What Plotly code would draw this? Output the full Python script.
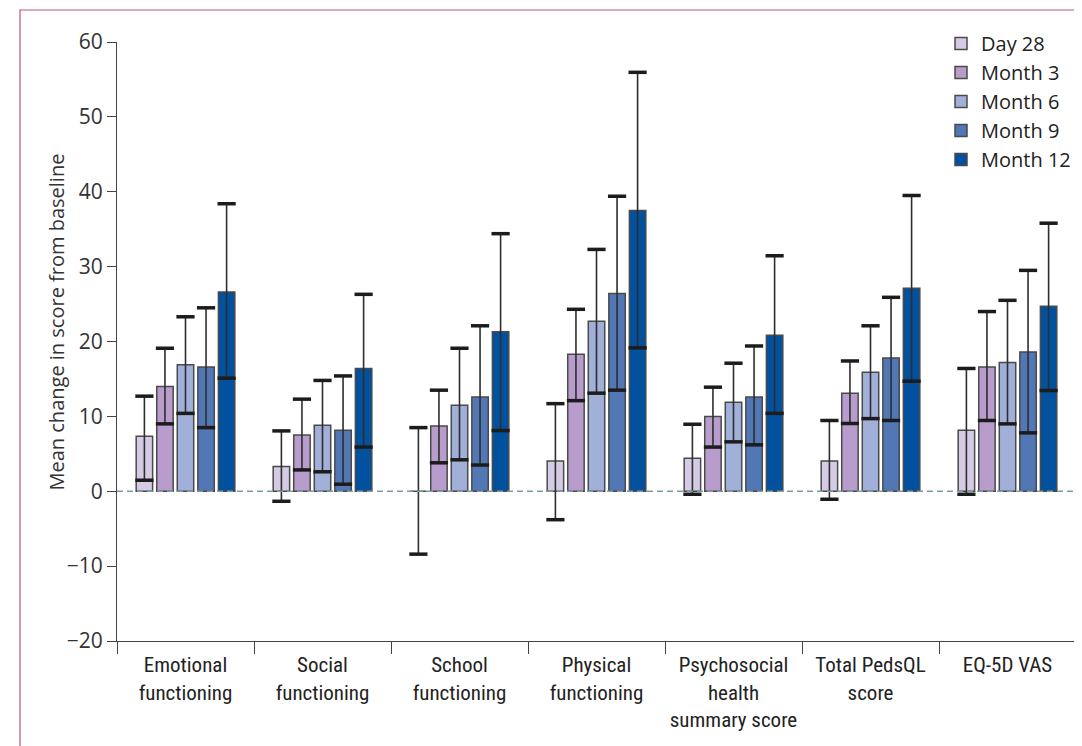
import plotly.graph_objects as go

categories = ["Emotional<br>functioning", "Social<br>functioning", "School<br>functioning",
              "Physical<br>functioning", "Psychosocial<br>health<br>summary score",
              "Total PedsQL<br>score", "EQ-5D VAS"]
series_names = ["Day 28", "Month 3", "Month 6", "Month 9", "Month 12"]

day28 = [7.35, 3.3, 0.0, 4.05, 4.4, 4.05, 8.15]
month3 = [14.0, 7.5, 8.7, 18.3, 10.0, 13.1, 16.6]
month6 = [16.9, 8.8, 11.5, 22.7, 11.9, 15.9, 17.2]
month9 = [16.6, 8.15, 12.6, 26.4, 12.6, 17.8, 18.6]
month12 = [26.6, 16.4, 21.3, 37.5, 20.85, 27.1, 24.7]

day28_hi = [12.7, 8.06, 8.5, 11.7, 8.95, 9.45, 16.4]
month3_hi = [19.1, 12.3, 13.5, 24.3, 13.9, 17.4, 24.0]
month6_hi = [23.3, 14.8, 19.1, 32.3, 17.1, 22.1, 25.5]
month9_hi = [24.5, 15.4, 22.1, 39.4, 19.4, 25.9, 29.5]
month12_hi = [38.4, 26.3, 34.4, 55.95, 31.45, 39.5, 35.8]

day28_lo = [1.47, -1.34, -8.4, -3.8, -0.4, -1.07, -0.4]
month3_lo = [9.0, 2.85, 3.8, 12.1, 5.9, 9.05, 9.45]
month6_lo = [10.4, 2.6, 4.2, 13.1, 6.6, 9.7, 9.0]
month9_lo = [8.5, 0.94, 3.5, 13.5, 6.2, 9.45, 7.8]
month12_lo = [15.1, 5.9, 8.1, 19.15, 10.4, 14.7, 13.45]

colors = ["#d5cbe4", "#b89dcc", "#a1b0d9", "#5277b5", "#02519f"]

means = [day28, month3, month6, month9, month12]
highs = [day28_hi, month3_hi, month6_hi, month9_hi, month12_hi]
lows = [day28_lo, month3_lo, month6_lo, month9_lo, month12_lo]

fig = go.Figure()
for name, m, hi, lo, c in zip(series_names, means, highs, lows, colors):
    fig.add_trace(go.Bar(
        x=categories, y=m, name=name, offsetgroup=name,
        marker=dict(color=c, line=dict(color="#4a4a4a", width=1.5)),
        error_y=dict(type="data", symmetric=False,
                     array=[h - v for h, v in zip(hi, m)],
                     arrayminus=[v - l for v, l in zip(m, lo)],
                     width=0, thickness=1.6, color="#2e2e2e"),
    ))
for name, m, hi, lo in zip(series_names, means, highs, lows):
    fig.add_trace(go.Scatter(
        x=categories + categories, y=hi + lo, mode="markers", offsetgroup=name,
        marker=dict(symbol="line-ew", size=13, color="#1c1c1c",
                    line=dict(color="#1c1c1c", width=3.5)),
        showlegend=False, hoverinfo="skip",
    ))

fig.add_shape(type="line", xref="paper", x0=0, x1=1, yref="y", y0=0, y1=0,
              line=dict(color="#7c9aa8", width=1.3, dash="6px,4px"), layer="above")
# outer frame
fig.add_shape(type="rect", xref="paper", yref="paper",
              x0=(20 - 117) / 959, x1=(1080 - 117) / 959,
              y0=-0.3, y1=(641 - 10) / 599,
              line=dict(color="#c94f7c", width=1.2), fillcolor="rgba(0,0,0,0)")

fig.add_annotation(text="Mean change in score from baseline", textangle=-90,
                   xref="paper", yref="paper", x=(40 - 117) / 959, y=(641 - 322) / 599,
                   showarrow=False, font=dict(size=20, color="#333333",
                                              family="Open Sans, Liberation Sans, sans-serif"))

# page body has an 8px margin: size the figure so the plot area lands where it should
fig.update_layout(
    width=1074, height=738,
    margin=dict(l=109, r=6, t=34, b=105, autoexpand=False),
    paper_bgcolor="white", plot_bgcolor="white",
    barmode="group", bargap=0.25, bargroupgap=0.2,
    scattermode="group", scattergap=0.25,
    showlegend=True,
    legend=dict(x=1.0, y=(641 - 24) / 599, xanchor="right", yanchor="top",
                font=dict(size=20, color="#222222", family="Open Sans, Liberation Sans, sans-serif"),
                bgcolor="rgba(0,0,0,0)", traceorder="normal", itemwidth=30,
                tracegroupgap=0),
    font=dict(family="Open Sans, Liberation Sans, sans-serif", color="#333333"),
)
fig.update_yaxes(range=[-20, 60], tickvals=[-20, -10, 0, 10, 20, 30, 40, 50, 60],
                 ticks="outside", ticklen=9, tickcolor="#444444", showline=True,
                 linecolor="#444444", linewidth=1.2, showgrid=False, zeroline=False,
                 tickfont=dict(size=21, color="#333333"))
fig.update_xaxes(type="category", tickson="boundaries", ticks="outside", ticklen=12,
                 tickcolor="#444444", showline=True, linecolor="#444444", linewidth=1.2,
                 showgrid=False, range=[-0.5, 6.5], tickangle=0, ticklabelstandoff=5,
                 tickfont=dict(size=21, color="#222222",
                               family="Liberation Sans Narrow, Roboto Condensed, Open Sans, sans-serif"))

fig.write_html("out.html")
